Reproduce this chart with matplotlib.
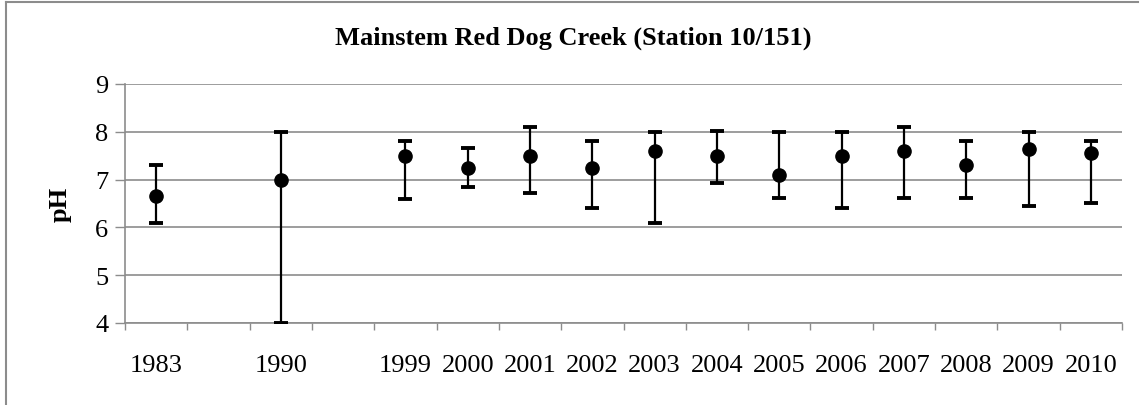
import numpy as np
import matplotlib
matplotlib.use("Agg")
import matplotlib.pyplot as plt
from matplotlib.lines import Line2D

# pH por año: media, mínimo y máximo
anios = ['1983', '', '1990', '', '1999', '2000', '2001', '2002', '2003',
         '2004', '2005', '2006', '2007', '2008', '2009', '2010']
ph_media = [6.65, np.nan, 7.0, np.nan, 7.5, 7.24, 7.5, 7.24, 7.6,
            7.5, 7.1, 7.5, 7.6, 7.3, 7.65, 7.55]
ph_min = [6.1, np.nan, 4.0, np.nan, 6.6, 6.85, 6.72, 6.4, 6.1,
          6.93, 6.62, 6.4, 6.62, 6.62, 6.45, 6.52]
ph_max = [7.3, np.nan, 8.0, np.nan, 7.8, 7.67, 8.1, 7.8, 8.0,
          8.02, 8.0, 8.0, 8.1, 7.8, 8.0, 7.8]

plt.rcParams['font.family'] = 'Liberation Serif'

fig = plt.figure(figsize=(11.46, 4.06), dpi=100)
ax = fig.add_axes([125 / 1146, 1 - 324 / 406, 997 / 1146, 239 / 406])

x = np.arange(len(anios))
media = np.array(ph_media)
err = [media - np.array(ph_min), np.array(ph_max) - media]
ax.errorbar(x, media, yerr=err, fmt='o', color='black', ms=9.5,
            elinewidth=1.6, capsize=5, capthick=2.8, zorder=3)

gris = '#8c8c8c'
ax.set_xlim(-0.5, len(anios) - 0.5)
ax.set_ylim(4, 9)
ax.set_yticks(range(4, 10))
ax.set_xticks(x)
ax.set_xticklabels(anios)
ax.set_xticks(np.arange(-0.5, len(anios)), minor=True)
ax.tick_params(axis='x', which='major', length=0, pad=22, labelsize=19)
ax.tick_params(axis='x', which='minor', length=5, color=gris, width=1)
ax.tick_params(axis='y', length=7, color=gris, width=1, labelsize=19, pad=5)
ax.grid(axis='y', color=gris, linewidth=1.2)
ax.set_axisbelow(True)
for lado in ['top', 'right']:
    ax.spines[lado].set_visible(False)
for lado in ['left', 'bottom']:
    ax.spines[lado].set_color(gris)
    ax.spines[lado].set_linewidth(1.2)

ax.set_ylabel('pH', fontsize=19, fontweight='bold', labelpad=17)
fig.text(0.5, 1 - 38 / 406, 'Mainstem Red Dog Creek (Station 10/151)',
         ha='center', va='center', fontsize=19, fontweight='bold')

# marco exterior del gráfico
fig.add_artist(Line2D([6 / 1146, 6 / 1146], [0, 1 - 3 / 406],
                      transform=fig.transFigure, color=gris, lw=1.5))
fig.add_artist(Line2D([6 / 1146, 1138 / 1146], [1 - 3 / 406, 1 - 3 / 406],
                      transform=fig.transFigure, color=gris, lw=1.5))

fig.savefig('out.png', dpi=100)
